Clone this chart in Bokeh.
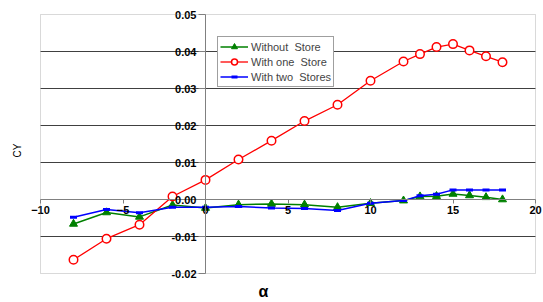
from math import pi
from bokeh.plotting import figure
from bokeh.models import Range1d, FixedTicker, NumeralTickFormatter, Label, Legend, BoxAnnotation
from bokeh.embed import file_html
from bokeh.resources import INLINE

# ---- data ----
alpha_one = [-8, -6, -4, -2, 0, 2, 4, 6, 8, 10, 12, 13, 14, 15, 16, 17, 18]
cy_one = [-0.0163, -0.0106, -0.0068, 0.0008, 0.0053, 0.0108, 0.0159, 0.0212,
          0.0256, 0.0321, 0.0373, 0.0393, 0.0412, 0.0420, 0.0403, 0.0387, 0.0371]

alpha_none = [-8, -6, -4, -2, 0, 2, 4, 6, 8, 10, 12, 13, 14, 15, 16, 17, 18]
cy_none = [-0.0066, -0.0035, -0.0047, -0.0015, -0.0023, -0.0014, -0.0012, -0.0014,
           -0.0021, -0.0010, -0.0003, 0.0008, 0.0009, 0.0015, 0.0011, 0.0006, 0.0000]

alpha_two = [-8, -6, -4, -2, 0, 2, 4, 6, 8, 10, 12, 13, 14, 15, 16, 17, 18]
cy_two = [-0.0048, -0.0027, -0.0036, -0.0021, -0.0021, -0.0019, -0.0023, -0.0024,
          -0.0030, -0.0010, -0.0003, 0.0010, 0.0014, 0.0026, 0.0026, 0.0026, 0.0026]

x_ticks = [-10, -5, 0, 5, 10, 15, 20]
y_ticks = [-0.02, -0.01, 0.0, 0.01, 0.02, 0.03, 0.04, 0.05]

label_none = "Without  Store"
label_one = "With one  Store"
label_two = "With two  Stores"
x_title = "α"
y_title = "CY"

FONT = "Liberation Sans"

# ---- layout (pixels) ----
W, H = 543, 302
BOX_L, BOX_R, BOX_T, BOX_B = 40, 535, 14, 273
x_min, x_max = x_ticks[0], x_ticks[-1]
y_min, y_max = y_ticks[0], y_ticks[-1]
ppx = (BOX_R - BOX_L) / (x_max - x_min)
ppy = (BOX_B - BOX_T) / (y_max - y_min)
xr = Range1d(x_min - BOX_L / ppx, x_max + (W - BOX_R) / ppx)
yr = Range1d(y_min - (H - BOX_B) / ppy, y_max + BOX_T / ppy)

p = figure(width=W, height=H, frame_width=W, frame_height=H,
           output_backend="svg", toolbar_location=None,
           x_range=xr, y_range=yr,
           min_border_left=0, min_border_right=0, min_border_top=0, min_border_bottom=0)

p.background_fill_color = "white"
p.border_fill_color = "white"
p.outline_line_color = None

p.xgrid.visible = False
p.ygrid.visible = False

# horizontal grid lines between the box edges
grid_y = [t for t in y_ticks if t not in (0.0, y_min, y_max)]
p.segment(x0=[x_min] * len(grid_y), x1=[x_max] * len(grid_y), y0=grid_y, y1=grid_y,
          line_color="#404040", line_width=1)

# plot box
p.add_layout(BoxAnnotation(left=x_min, right=x_max, bottom=y_min, top=y_max,
                           fill_alpha=0, line_color="#808080", line_width=1))

for ax in (p.xaxis[0], p.yaxis[0]):
    ax.fixed_location = 0
    ax.axis_line_color = "#808080"
    ax.major_tick_line_color = "#808080"
    ax.minor_tick_line_color = None
    ax.major_tick_in = 0
    ax.major_label_text_font = FONT
    ax.major_label_text_font_style = "bold"
    ax.major_label_text_font_size = "11px"
    ax.major_label_text_color = "black"

p.xaxis.ticker = FixedTicker(ticks=x_ticks)
p.xaxis.bounds = (x_min, x_max)
p.xaxis.major_tick_out = 4
p.xaxis.major_label_standoff = 2
p.yaxis.ticker = FixedTicker(ticks=y_ticks)
p.yaxis.bounds = (y_min, y_max)
p.yaxis.formatter = NumeralTickFormatter(format="0.00")
p.yaxis.major_tick_out = 7
p.yaxis.major_label_standoff = 2

# series
r_g_line = p.line(alpha_none, cy_none, line_color="#008000", line_width=1.5)
r_g_pts = p.scatter(alpha_none, cy_none, marker="triangle", size=8,
                    fill_color="#008000", line_color="#008000")
r_r_line = p.line(alpha_one, cy_one, line_color="#FF0000", line_width=1.3)
r_r_pts = p.scatter(alpha_one, cy_one, marker="circle", size=8.5,
                    fill_color="white", line_color="#FF0000", line_width=1.5)
r_b_line = p.line(alpha_two, cy_two, line_color="#0000FF", line_width=1.5)
r_b_pts = p.scatter(alpha_two, cy_two, marker="dash", size=7,
                    line_color="#0000FF", line_width=3)

legend = Legend(items=[(label_none, [r_g_line, r_g_pts]),
                       (label_one, [r_r_line, r_r_pts]),
                       (label_two, [r_b_line, r_b_pts])],
                location=(217, H - 87))
legend.glyph_width = 28
legend.glyph_height = 15
legend.label_height = 15
legend.spacing = 0
legend.padding = 2
legend.margin = 0
legend.label_standoff = 3
legend.label_text_font = FONT
legend.label_text_font_size = "11px"
legend.border_line_color = "#404040"
legend.border_line_width = 1
legend.background_fill_color = "white"
legend.background_fill_alpha = 1.0
p.add_layout(legend, "center")

p.add_layout(Label(x=17, y=H - 150, x_units="screen", y_units="screen", text=y_title,
                   angle=pi / 2, text_align="center", text_baseline="middle",
                   text_font=FONT, text_font_size="10px", text_color="black"))
p.add_layout(Label(x=263, y=11, x_units="screen", y_units="screen", text=x_title,
                   text_align="center", text_baseline="middle",
                   text_font=FONT, text_font_size="16px", text_font_style="bold",
                   text_color="black"))

open("out.html", "w").write(file_html(p, INLINE))
